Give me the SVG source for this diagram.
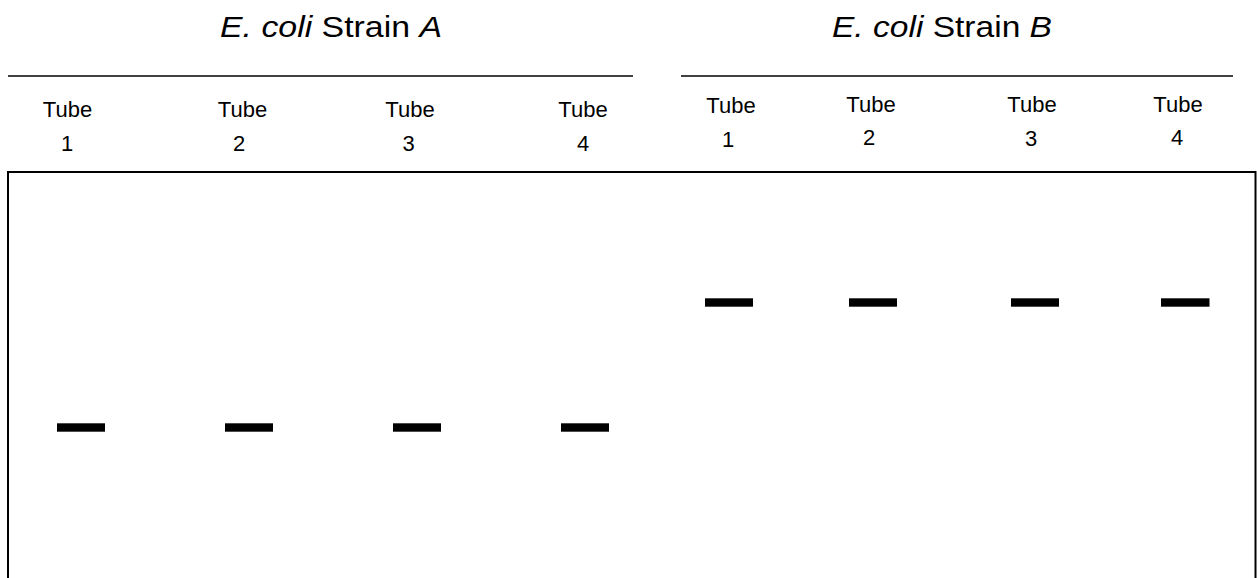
<svg xmlns="http://www.w3.org/2000/svg" width="1257" height="578" viewBox="0 0 1257 578">
  <style>
    .title { font-family: "Liberation Sans", Arial, sans-serif; font-size: 30px; fill: #000; text-anchor: middle; }
    .lbl { font-family: "Liberation Sans", Arial, sans-serif; font-size: 22px; fill: #000; text-anchor: middle; }
    .rule { stroke: #000; stroke-width: 1.6; fill: none; }
    .gel { stroke: #000; stroke-width: 2; fill: none; }
    .band { fill: #000; }
  </style>
  <rect x="0" y="0" width="1257" height="578" fill="#fff"/>

  <g id="strainA-header">
    <text class="title" x="331" y="37" textLength="222" lengthAdjust="spacingAndGlyphs"><tspan font-style="italic">E. coli</tspan> Strain <tspan font-style="italic">A</tspan></text>
    <line class="rule" x1="8" y1="76" x2="633" y2="76"/>
  </g>
  <g id="strainB-header">
    <text class="title" x="942" y="37" textLength="220" lengthAdjust="spacingAndGlyphs"><tspan font-style="italic">E. coli</tspan> Strain <tspan font-style="italic">B</tspan></text>
    <line class="rule" x1="681" y1="76" x2="1233" y2="76"/>
  </g>

  <g id="labelsA">
    <text class="lbl" x="67.5" y="117">Tube</text><text class="lbl" x="67" y="151">1</text>
    <text class="lbl" x="242.5" y="117">Tube</text><text class="lbl" x="239" y="151">2</text>
    <text class="lbl" x="410" y="117">Tube</text><text class="lbl" x="408.5" y="151">3</text>
    <text class="lbl" x="583" y="117">Tube</text><text class="lbl" x="583" y="151">4</text>
  </g>
  <g id="labelsB">
    <text class="lbl" x="731" y="113">Tube</text><text class="lbl" x="728" y="147">1</text>
    <text class="lbl" x="871" y="112">Tube</text><text class="lbl" x="869" y="145">2</text>
    <text class="lbl" x="1032" y="112">Tube</text><text class="lbl" x="1031" y="146">3</text>
    <text class="lbl" x="1178" y="112">Tube</text><text class="lbl" x="1177" y="145">4</text>
  </g>

  <g id="gel">
    <path class="gel" d="M8,580 L8,172 L1255.5,172 L1255.5,580"/>
  </g>

  <g id="bandsA">
    <rect class="band" x="57" y="423.3" width="48" height="8.4"/>
    <rect class="band" x="225" y="423.3" width="48" height="8.4"/>
    <rect class="band" x="393" y="423.3" width="48" height="8.4"/>
    <rect class="band" x="561" y="423.3" width="48" height="8.4"/>
  </g>
  <g id="bandsB">
    <rect class="band" x="705" y="298.3" width="48" height="8.4"/>
    <rect class="band" x="849" y="298.3" width="48" height="8.4"/>
    <rect class="band" x="1011" y="298.3" width="48" height="8.4"/>
    <rect class="band" x="1161" y="298.3" width="48.5" height="8.4"/>
  </g>
  <g id="connectors"/>
</svg>
